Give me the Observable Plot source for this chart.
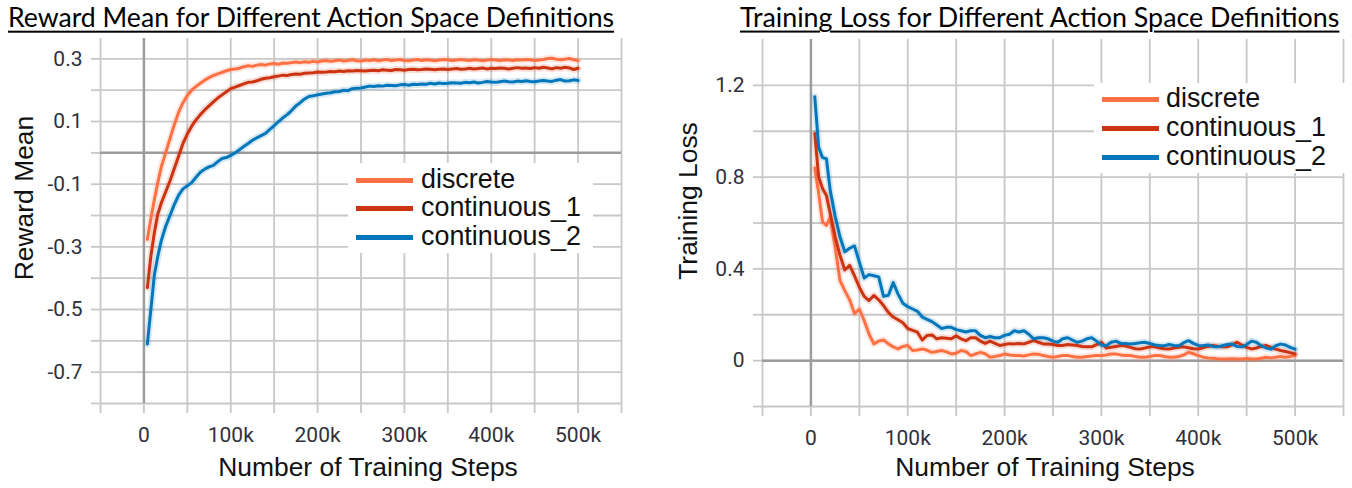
<!DOCTYPE html>
<html><head><meta charset="utf-8">
<script src="https://cdn.jsdelivr.net/npm/d3@7"></script>
<script src="https://cdn.jsdelivr.net/npm/@observablehq/plot@0.6"></script>
<style>
body{margin:0;background:#fff;}
#wrap{position:relative;width:1352px;height:488px;overflow:hidden;font-family:"Liberation Sans",Arial,sans-serif;}
#wrap svg{position:absolute;top:0;}
.abs{position:absolute;white-space:nowrap;line-height:1;color:#111;}
.title{font-family:Lato,"Open Sans",sans-serif;text-decoration:underline;text-decoration-thickness:2px;text-underline-offset:4px;color:#000;transform:translateY(-50%);}
.xt{transform:translate(-50%,-50%);}
.yt{transform:translate(-50%,-50%) rotate(-90deg);}
.leg{position:absolute;background:#fff;}
.row{position:absolute;left:0;height:0;}
.sw{position:absolute;width:57px;height:5px;margin-top:-2.5px;}
.lt{position:absolute;white-space:nowrap;line-height:1;color:#111;transform:translateY(-52%);}
</style></head>
<body>
<div id="wrap"></div>
<script>
// ---- data ----
const series = ["discrete", "continuous_1", "continuous_2"];
const colors = ["#ff7043", "#cc3311", "#0077bb"];
const stepsK = [
  4, 8, 12, 16, 20, 25, 30, 35, 40, 45,
  50, 55, 60, 65, 70, 75, 80, 85, 90, 95,
  100, 105, 110, 115, 120, 125, 130, 135, 140, 145,
  150, 155, 160, 165, 170, 175, 180, 185, 190, 195,
  200, 205, 210, 215, 220, 225, 230, 235, 240, 245,
  250, 255, 260, 265, 270, 275, 280, 285, 290, 295,
  300, 305, 310, 315, 320, 325, 330, 335, 340, 345,
  350, 355, 360, 365, 370, 375, 380, 385, 390, 395,
  400, 405, 410, 415, 420, 425, 430, 435, 440, 445,
  450, 455, 460, 465, 470, 475, 480, 485, 490, 495,
  500];
const discreteReward = [
  -0.276, -0.21, -0.15, -0.095, -0.045, 0.0, 0.045, 0.09, 0.13, 0.16,
  0.183, 0.2, 0.212, 0.222, 0.232, 0.24, 0.247, 0.252, 0.257, 0.262,
  0.266, 0.268, 0.27, 0.275, 0.278, 0.276, 0.28, 0.282, 0.28, 0.284,
  0.285, 0.283, 0.287, 0.286, 0.288, 0.29, 0.288, 0.291, 0.289, 0.292,
  0.29, 0.293, 0.295, 0.292, 0.294, 0.296, 0.293, 0.295, 0.297, 0.294,
  0.293, 0.296, 0.295, 0.297, 0.294, 0.296, 0.298, 0.295, 0.296, 0.298,
  0.295, 0.294, 0.296, 0.298, 0.295, 0.297, 0.296, 0.294, 0.296, 0.298,
  0.297, 0.295, 0.296, 0.298, 0.296, 0.295, 0.297, 0.296, 0.294, 0.296,
  0.298, 0.296, 0.295, 0.297, 0.296, 0.295, 0.297, 0.296, 0.298, 0.297,
  0.295, 0.296, 0.298, 0.301, 0.302, 0.299, 0.297, 0.299, 0.301, 0.297,
  0.295];
const continuous1Reward = [
  -0.43, -0.33, -0.255, -0.195, -0.16, -0.125, -0.09, -0.05, -0.01, 0.03,
  0.06, 0.085, 0.105, 0.122, 0.137, 0.15, 0.163, 0.175, 0.185, 0.195,
  0.205, 0.21, 0.215, 0.22, 0.225, 0.226, 0.23, 0.235, 0.238, 0.24,
  0.243, 0.245, 0.248, 0.247, 0.25, 0.252, 0.251, 0.254, 0.255, 0.256,
  0.258, 0.257, 0.258, 0.26, 0.259, 0.261, 0.26, 0.262, 0.261, 0.263,
  0.262, 0.261, 0.263, 0.264, 0.262, 0.265, 0.264, 0.263, 0.266, 0.265,
  0.264, 0.266, 0.267, 0.265, 0.266, 0.268, 0.267, 0.265, 0.267, 0.268,
  0.266, 0.268, 0.269, 0.267, 0.268, 0.27, 0.268, 0.269, 0.271, 0.268,
  0.27, 0.269, 0.271, 0.27, 0.268, 0.27, 0.272, 0.27, 0.271, 0.269,
  0.272, 0.27, 0.273, 0.271, 0.268, 0.272, 0.27, 0.273, 0.271, 0.266,
  0.27];
const continuous2Reward = [
  -0.61, -0.5, -0.39, -0.33, -0.28, -0.235, -0.2, -0.165, -0.135, -0.115,
  -0.105, -0.095, -0.078, -0.062, -0.052, -0.045, -0.04, -0.028, -0.018, -0.015,
  -0.008, 0.0, 0.01, 0.02, 0.03, 0.04, 0.048, 0.055, 0.062, 0.075,
  0.087, 0.1, 0.112, 0.122, 0.135, 0.15, 0.16, 0.172, 0.18, 0.182,
  0.185, 0.188, 0.19, 0.192, 0.195, 0.196, 0.2, 0.199, 0.205, 0.206,
  0.207, 0.21, 0.213, 0.212, 0.214, 0.213, 0.216, 0.215, 0.214, 0.217,
  0.218, 0.216, 0.219, 0.218, 0.22, 0.219, 0.222, 0.22, 0.223, 0.221,
  0.222, 0.224, 0.223, 0.222, 0.225, 0.224, 0.226, 0.223, 0.225, 0.228,
  0.226, 0.225, 0.227, 0.229, 0.227, 0.226, 0.229, 0.228, 0.23, 0.228,
  0.227, 0.229, 0.231, 0.229, 0.228, 0.232, 0.234, 0.229, 0.23, 0.233,
  0.231];
const discreteLoss = [
  0.84, 0.73, 0.605, 0.59, 0.625, 0.495, 0.35, 0.305, 0.265, 0.205,
  0.225, 0.175, 0.116, 0.073, 0.085, 0.09, 0.073, 0.06, 0.051, 0.062,
  0.066, 0.044, 0.046, 0.051, 0.045, 0.036, 0.04, 0.044, 0.038, 0.029,
  0.032, 0.044, 0.04, 0.022, 0.029, 0.036, 0.03, 0.015, 0.018, 0.022,
  0.029, 0.025, 0.022, 0.022, 0.02, 0.025, 0.029, 0.028, 0.022, 0.018,
  0.015, 0.018, 0.022, 0.022, 0.018, 0.015, 0.015, 0.018, 0.02, 0.022,
  0.022, 0.025, 0.029, 0.029, 0.025, 0.022, 0.022, 0.018, 0.015, 0.015,
  0.018, 0.022, 0.022, 0.018, 0.015, 0.015, 0.018, 0.025, 0.036, 0.03,
  0.022, 0.015, 0.012, 0.01, 0.008, 0.007, 0.007, 0.008, 0.007, 0.007,
  0.009, 0.007, 0.007, 0.01, 0.015, 0.012, 0.015, 0.018, 0.015, 0.018,
  0.022];
const continuous1Loss = [
  0.99, 0.8, 0.75, 0.72, 0.64, 0.54, 0.46, 0.395, 0.415, 0.37,
  0.32, 0.28, 0.262, 0.284, 0.265, 0.24, 0.21, 0.19, 0.178, 0.165,
  0.14, 0.132, 0.124, 0.09, 0.11, 0.112, 0.095, 0.1, 0.098, 0.095,
  0.108, 0.095, 0.087, 0.1, 0.1, 0.085, 0.075, 0.085, 0.075, 0.066,
  0.07, 0.074, 0.073, 0.075, 0.073, 0.08, 0.087, 0.08, 0.073, 0.072,
  0.07, 0.066, 0.066, 0.07, 0.068, 0.066, 0.062, 0.06, 0.06, 0.07,
  0.08, 0.055, 0.058, 0.062, 0.066, 0.064, 0.058, 0.052, 0.051, 0.055,
  0.06, 0.06, 0.055, 0.052, 0.051, 0.055, 0.058, 0.06, 0.056, 0.052,
  0.051, 0.056, 0.062, 0.066, 0.063, 0.06, 0.06, 0.07, 0.08, 0.068,
  0.058, 0.051, 0.055, 0.062, 0.066, 0.058, 0.05, 0.044, 0.04, 0.035,
  0.029];
const continuous2Loss = [
  1.15, 0.93, 0.885, 0.88, 0.74, 0.63, 0.54, 0.475, 0.49, 0.5,
  0.43, 0.36, 0.375, 0.37, 0.365, 0.28, 0.285, 0.34, 0.29, 0.25,
  0.235, 0.225, 0.215, 0.19, 0.18, 0.17, 0.155, 0.14, 0.145, 0.145,
  0.135, 0.13, 0.125, 0.13, 0.13, 0.11, 0.1, 0.105, 0.1, 0.1,
  0.11, 0.115, 0.13, 0.125, 0.13, 0.115, 0.095, 0.1, 0.1, 0.095,
  0.085, 0.08, 0.095, 0.1, 0.09, 0.08, 0.085, 0.095, 0.1, 0.085,
  0.068, 0.065, 0.08, 0.085, 0.075, 0.075, 0.072, 0.075, 0.078, 0.08,
  0.075, 0.068, 0.066, 0.065, 0.07, 0.066, 0.065, 0.078, 0.087, 0.075,
  0.066, 0.065, 0.068, 0.062, 0.06, 0.065, 0.07, 0.072, 0.062, 0.06,
  0.07, 0.085, 0.08, 0.065, 0.055, 0.05, 0.065, 0.072, 0.068, 0.058,
  0.05];
const xGridTicks = [-50000, 0, 50000, 100000, 150000, 200000, 250000, 300000, 350000, 400000, 450000, 500000, 550000];
const xLabelTicks = [0, 100000, 200000, 300000, 400000, 500000];
const rewardGridTicks = [-0.8, -0.7, -0.6, -0.5, -0.4, -0.3, -0.2, -0.1, 0, 0.1, 0.2, 0.3];
const rewardLabelTicks = [0.3, 0.1, -0.1, -0.3, -0.5, -0.7];
const lossGridTicks = [-0.2, 0, 0.2, 0.4, 0.6, 0.8, 1.0, 1.2];
const lossLabelTicks = [0, 0.4, 0.8, 1.2];
const titles = ["Reward Mean for Different Action Space Definitions", "Training Loss for Different Action Space Definitions"];
const yTitles = ["Reward Mean", "Training Loss"];
const xTitle = "Number of Training Steps";

// ---- helpers ----
function tidy(arrs) {
  const out = [];
  arrs.forEach((a, i) => a.forEach((v, j) => out.push({step: stepsK[j] * 1000, value: v, series: series[i]})));
  return out;
}
const kfmt = d => xLabelTicks.includes(d) ? (d === 0 ? "0" : (d / 1000) + "k") : "";
const GRID = "#c8c8c8", ZERO = "#9c9c9c", TXT = "#30303c";

function chart({data, yDomain, yGrid, yLabels, marginLeft, marginRight, marginTop, marginBottom}) {
  return Plot.plot({
    width: 676, height: 488,
    marginLeft, marginRight, marginTop, marginBottom,
    x: {domain: [-50000, 550000]},
    y: {domain: yDomain},
    color: {domain: series, range: colors},
    style: {fontFamily: "Roboto, 'Liberation Sans', sans-serif", fontSize: "21px", background: "transparent", overflow: "visible"},
    marks: [
      Plot.gridX(xGridTicks, {stroke: GRID, strokeOpacity: 1, strokeWidth: 1.8}),
      Plot.gridY(yGrid, {stroke: GRID, strokeOpacity: 1, strokeWidth: 1.8}),
      Plot.axisX(xGridTicks, {tickSize: 10, tickPadding: 14, stroke: GRID, strokeWidth: 1.8, fill: TXT, tickFormat: kfmt, label: null}),
      Plot.axisY(yGrid, {tickSize: 9, tickPadding: 9, stroke: GRID, strokeWidth: 1.8, fill: TXT,
        tickFormat: d => yLabels.includes(d) ? String(d) : "", label: null}),
      Plot.ruleX([0], {stroke: ZERO, strokeWidth: 2.5}),
      Plot.ruleY([0], {stroke: ZERO, strokeWidth: 2.5}),
      Plot.line(data, {x: "step", y: "value", z: "series", stroke: "series", strokeWidth: 7, strokeOpacity: 0.16}),
      Plot.line(data, {x: "step", y: "value", z: "series", stroke: "series", strokeWidth: 3})
    ]
  });
}

const wrap = document.getElementById("wrap");
const left = chart({
  data: tidy([discreteReward, continuous1Reward, continuous2Reward]),
  yDomain: [-0.8, 0.365], yGrid: rewardGridTicks, yLabels: rewardLabelTicks,
  marginLeft: 100, marginRight: 55, marginTop: 38, marginBottom: 85
});
left.style.left = "0px";
const right = chart({
  data: tidy([discreteLoss, continuous1Loss, continuous2Loss]),
  yDomain: [-0.2, 1.4], yGrid: lossGridTicks, yLabels: lossLabelTicks,
  marginLeft: 86, marginRight: 9, marginTop: 39, marginBottom: 82
});
right.style.left = "676px";
wrap.append(left, right);

function addText(txt, cls, x, y) {
  const d = document.createElement("div");
  d.className = "abs " + cls;
  d.textContent = txt;
  d.style.left = x + "px"; d.style.top = y + "px";
  wrap.append(d);
  return d;
}
const t1 = addText(titles[0], "title", 8, 17);
const t2 = addText(titles[1], "title", 740, 17);
const x1 = addText(xTitle, "xt", 368, 467);
const x2 = addText(xTitle, "xt", 1045, 467);
const y1 = addText(yTitles[0], "yt", 24, 198);
const y2 = addText(yTitles[1], "yt", 688, 201);

function legend(x, y, w, h, rowsY, textX) {
  const box = document.createElement("div");
  box.className = "leg";
  Object.assign(box.style, {left: x + "px", top: y + "px", width: w + "px", height: h + "px"});
  const texts = [];
  series.forEach((s, i) => {
    const r = document.createElement("div");
    r.className = "row"; r.style.top = rowsY[i] + "px";
    const sw = document.createElement("div");
    sw.className = "sw"; sw.style.left = "8px"; sw.style.background = colors[i];
    const t = document.createElement("div");
    t.className = "lt"; t.style.left = textX + "px"; t.textContent = s;
    r.append(sw, t); box.append(r); texts.push(t);
  });
  wrap.append(box);
  return texts;
}
const lt1 = legend(348, 163, 245, 90, [17, 45, 74], 73);
const lt2 = legend(1094, 83, 252, 90, [16, 45, 74], 72);

function fitSize(el, w) {
  el.style.fontSize = "20px";
  const r = el.offsetWidth;
  return 20 * w / r;
}
function layout() {
  t1.style.fontSize = fitSize(t1, 607) + "px";
  t2.style.fontSize = fitSize(t2, 600) + "px";
  const fx = fitSize(x1, 300);
  [x1, x2, y1, y2].forEach(e => e.style.fontSize = fx + "px");
  const fl = fitSize(lt1[1], 160);
  [...lt1, ...lt2].forEach(e => e.style.fontSize = fl + "px");
}
layout();
if (document.fonts && document.fonts.ready) document.fonts.ready.then(layout);
</script>
</body></html>
